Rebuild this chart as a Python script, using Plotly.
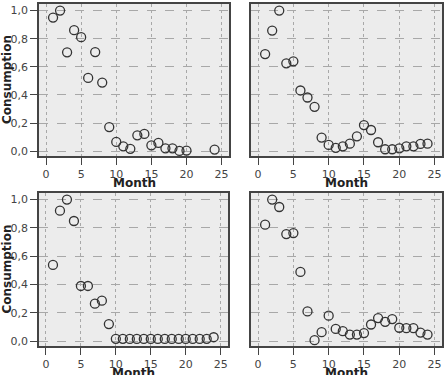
import plotly.graph_objects as go

months_a = [1, 2, 3, 4, 5, 6, 7, 8, 9, 10, 11, 12, 13, 14, 15, 16, 17, 18, 19, 20, 24]
cons_a = [0.95, 1.0, 0.703, 0.861, 0.811, 0.521, 0.705, 0.488, 0.172, 0.066, 0.035, 0.017,
          0.113, 0.123, 0.042, 0.059, 0.021, 0.021, 0.002, 0.005, 0.012]

months_b = list(range(1, 25))
cons_b = [0.691, 0.858, 1.0, 0.625, 0.639, 0.432, 0.382, 0.316, 0.097, 0.045, 0.024, 0.035,
          0.054, 0.106, 0.186, 0.151, 0.064, 0.014, 0.014, 0.021, 0.035, 0.035, 0.052, 0.054]

months_c = list(range(1, 25))
cons_c = [0.539, 0.922, 1.0, 0.849, 0.39, 0.39, 0.265, 0.286, 0.121, 0.017, 0.017, 0.016,
          0.016, 0.016, 0.016, 0.016, 0.016, 0.016, 0.016, 0.016, 0.016, 0.016, 0.017, 0.028]

months_d = list(range(1, 25))
cons_d = [0.823, 1.0, 0.948, 0.757, 0.764, 0.489, 0.21, 0.007, 0.064, 0.18, 0.087, 0.071,
          0.047, 0.047, 0.057, 0.118, 0.163, 0.137, 0.156, 0.095, 0.092, 0.092, 0.061, 0.047]

x_ticks = [0, 5, 10, 15, 20, 25]
y_ticks = [0.0, 0.2, 0.4, 0.6, 0.8, 1.0]

panels = [
    (months_a, cons_a, [39, 229], [4, 157], True),
    (months_b, cons_b, [251, 442], [4, 157], False),
    (months_c, cons_c, [39, 228], [194, 348], True),
    (months_d, cons_d, [251, 442], [194, 348], False),
]

W, H = 448, 375
FONT = "DejaVu Sans"
TXT = "#444444"

fig = go.Figure()
layout = dict(
    width=W, height=H, margin=dict(l=0, r=0, t=0, b=0),
    paper_bgcolor="white", plot_bgcolor="#ececec",
    separators=", ", showlegend=False,
    font=dict(family=FONT, size=11, color=TXT),
)
annotations = []
for i, (mx, cy, xr, yr, left) in enumerate(panels):
    n = "" if i == 0 else str(i + 1)
    fig.add_trace(go.Scatter(
        x=mx, y=cy, mode="markers", xaxis="x" + n, yaxis="y" + n,
        marker=dict(symbol="circle-open", size=9, color="#333333",
                    line=dict(width=1.3, color="#333333")),
        cliponaxis=False,
    ))
    layout["xaxis" + n] = dict(
        domain=[xr[0] / W, xr[1] / W], anchor="y" + n,
        range=[-1.0, 26.05], tickvals=x_ticks, ticks="outside", ticklen=7,
        tickcolor="#444444", tickwidth=1.2,
        showline=True, linecolor="#444444", linewidth=1.5, mirror=True,
        showgrid=True, gridcolor="#a8a8a8", griddash="dot", gridwidth=1,
        zeroline=False, tickfont=dict(family=FONT, size=11, color=TXT),
    )
    layout["yaxis" + n] = dict(
        domain=[1 - yr[1] / H, 1 - yr[0] / H], anchor="x" + n,
        range=[-0.035, 1.047], tickvals=y_ticks, tickformat=".1f",
        ticks="outside" if left else "", ticklen=7, tickcolor="#444444", tickwidth=1.2,
        showticklabels=left,
        showline=True, linecolor="#444444", linewidth=1.5, mirror=True,
        showgrid=True, gridcolor="#a8a8a8", griddash="dash", gridwidth=1,
        zeroline=False, tickfont=dict(family=FONT, size=11, color=TXT),
    )
    # x title
    annotations.append(dict(
        text="<b>Month</b>", x=(xr[0] + xr[1]) / 2 / W, y=1 - (yr[1] + 27) / H,
        xref="paper", yref="paper", xanchor="center", yanchor="middle",
        showarrow=False, font=dict(family=FONT, size=12, color="#222222"),
    ))
    if left:
        annotations.append(dict(
            text="<b>Consumption</b>", x=7 / W, y=1 - (yr[0] + yr[1]) / 2 / H,
            xref="paper", yref="paper", xanchor="center", yanchor="middle",
            textangle=-90, showarrow=False,
            font=dict(family=FONT, size=12, color="#222222"),
        ))
layout["annotations"] = annotations
fig.update_layout(**layout)
fig.write_html("out.html")
